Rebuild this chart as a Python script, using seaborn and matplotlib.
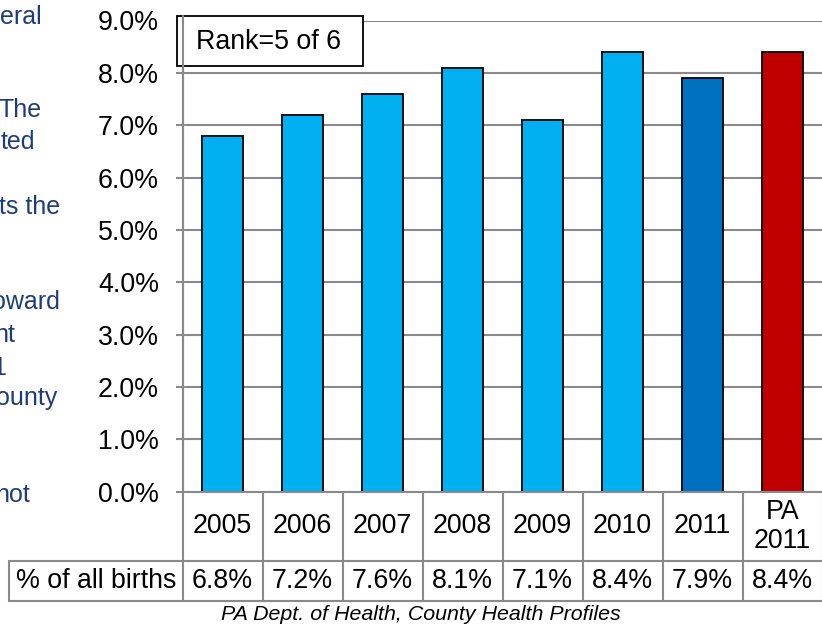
import matplotlib
matplotlib.use("Agg")
import matplotlib.pyplot as plt
from matplotlib.patches import Rectangle
import seaborn as sns
import pandas as pd

# ---- data ----
categories = ["2005", "2006", "2007", "2008", "2009", "2010", "2011", "PA\n2011"]
values = [6.8, 7.2, 7.6, 8.1, 7.1, 8.4, 7.9, 8.4]
bar_colors = ["#00B0F0"] * 6 + ["#0070C0", "#C00000"]
row_label = "% of all births"
yticks = [0, 1, 2, 3, 4, 5, 6, 7, 8, 9]
rank_text = "Rank=5 of 6"
source_text = "PA Dept. of Health, County Health Profiles"
side_fragments = ["eral", "The", "ted", "ts the", "oward", "nt", "1", "ounty", "not"]

sns.set_theme(style="white")
plt.rcParams["font.family"] = ["Liberation Sans", "DejaVu Sans"]
plt.rcParams["text.color"] = "black"

FS = 19.3
W, H = 822, 627
fig = plt.figure(figsize=(W / 100, H / 100), dpi=100)
fig.patch.set_facecolor("white")

y0_px, y9_px = 491.7, 20.5
x_left_px = 182.5
col_w = 80.0
ax = fig.add_axes([x_left_px / W, 1 - y0_px / H, (col_w * 8) / W, (y0_px - y9_px) / H])

df = pd.DataFrame({"cat": categories, "val": values})
sns.barplot(data=df, x="cat", y="val", hue="cat", palette=bar_colors, legend=False,
            width=0.51, edgecolor="black", linewidth=1.3, saturation=1, ax=ax, zorder=3)

grid_c = "#8A8A8A"
ax.set_ylim(0, 9)
ax.set_xlim(-0.5, 7.5)
ax.set_yticks(yticks)
ax.set_yticklabels([f"{t:.1f}%" for t in yticks])
ax.yaxis.grid(True, color=grid_c, linewidth=1.5, zorder=0)
ax.xaxis.grid(False)
ax.set_axisbelow(True)
ax.set_xlabel("")
ax.set_ylabel("")
ax.set_xticks([])
for s in ["top", "right", "bottom"]:
    ax.spines[s].set_visible(False)
ax.spines["left"].set_color(grid_c)
ax.spines["left"].set_linewidth(1.5)
ax.spines["left"].set_zorder(5)
ax.tick_params(axis="y", which="major", length=5, width=1.5, color=grid_c, left=True,
               pad=12, labelsize=FS, labelcolor="black", direction="out")
ax.patch.set_alpha(0)

# ---- table below axis ----
def py(p):
    return (y0_px - p) / (y0_px - y9_px) * 9  # pixel -> data y

row1_bot = 561.0
row2_bot = 601.0
lab_left_x = -0.5 - (x_left_px - 9) / col_w
line_kw = dict(color=grid_c, linewidth=1.5, clip_on=False, zorder=4)

ax.plot([-0.5, 7.5], [0, 0], **line_kw)
ax.plot([lab_left_x, 7.5], [py(row1_bot)] * 2, **line_kw)
ax.plot([lab_left_x, 7.5], [py(row2_bot)] * 2, **line_kw)
for i in range(9):
    xv = i - 0.5
    ax.plot([xv, xv], [0, py(row2_bot)], **line_kw)
ax.plot([lab_left_x, lab_left_x], [py(row1_bot), py(row2_bot)], **line_kw)

for i, (c, v) in enumerate(zip(categories, values)):
    ax.text(i, py((y0_px + row1_bot) / 2), c, ha="center", va="center", fontsize=FS,
            clip_on=False, linespacing=1.15)
    ax.text(i, py((row1_bot + row2_bot) / 2), f"{v:.1f}%", ha="center", va="center",
            fontsize=FS, clip_on=False)
ax.text((lab_left_x - 0.5) / 2, py((row1_bot + row2_bot) / 2), row_label, ha="center",
        va="center", fontsize=FS, clip_on=False)

# ---- rank box ----
bx0, bx1, by0, by1 = 177.3, 362.7, 16.0, 66.0
fig.add_artist(Rectangle((bx0 / W, 1 - by1 / H), (bx1 - bx0) / W, (by1 - by0) / H,
                         transform=fig.transFigure, facecolor="white", edgecolor="black",
                         linewidth=1.3, zorder=2))
fig.text(269 / W, 1 - 42 / H, rank_text, ha="center", va="center", fontsize=FS, zorder=3)
fig.add_artist(plt.Line2D([x_left_px / W] * 2, [1 - 16 / H, 1 - y0_px / H],
                          transform=fig.transFigure, color=grid_c, linewidth=1.5, zorder=4))

# ---- source ----
fig.text(421 / W, 1 - 614.5 / H, source_text, ha="center", va="center", fontsize=15.4,
         style="italic")

# ---- clipped slide text on the left ----
frag_pos = [(42, 17), (42, 110), (35, 142), (60, 207), (60, 302), (15, 335), (6, 368),
            (57, 398), (30, 495)]
for t, (xr, yc) in zip(side_fragments, frag_pos):
    fig.text(xr / W, 1 - yc / H, t, ha="right", va="center", fontsize=18,
             color="#1F3C7A")

fig.savefig("out.png", dpi=100, facecolor="white")
